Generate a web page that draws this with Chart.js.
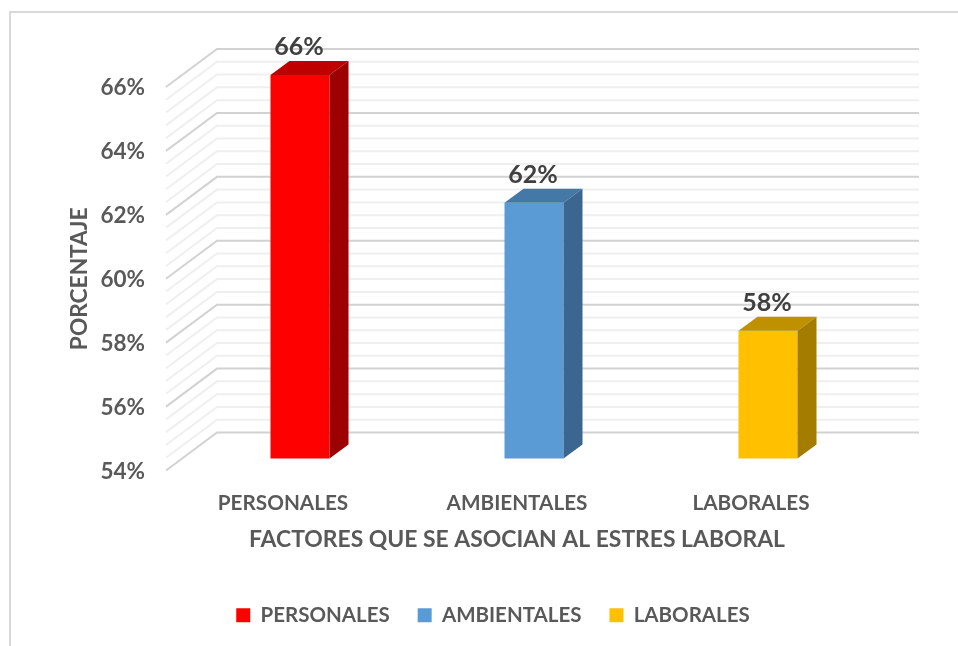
<!DOCTYPE html>
<html><head><meta charset="utf-8">
<script src="https://cdn.jsdelivr.net/npm/chart.js@4"></script>
<style>
html,body{margin:0;padding:0;background:#fff;width:958px;height:646px;overflow:hidden}
#frame{position:absolute;left:9px;top:11px;width:949px;height:635px;border-left:2px solid #d9d9d9;border-top:2px solid #d9d9d9;box-sizing:border-box}
canvas{position:absolute;left:0;top:0}
</style></head><body>
<div id="frame"></div>
<canvas id="c" width="958" height="646"></canvas>
<script>
const categories = ['PERSONALES','AMBIENTALES','LABORALES'];
const values = [66,62,58];
const frontColors = ['#FF0000','#5B9BD5','#FFC000'];
const topColors = ['#BF0000','#4478A6','#BF9000'];
const sideColors = ['#9C0000','#3A6690','#A37C00'];
const FONT = 'Lato';
const GREY = '#595959';
const wallDepth = {front:[17,12], back:[34,26]};
const bar3d = [19,14];

const scene = {
  id:'scene',
  afterLayout(chart){
    const l = chart.legend;
    l.left = 28; l.right = 958; l.top = 577; l.bottom = 646;
  },
  beforeDatasetsDraw(chart){
    const {ctx,chartArea:a,scales:{y}} = chart;
    const dx = wallDepth.front[0]+wallDepth.back[0], dy = wallDepth.back[1]+wallDepth.front[1];
    y.ticks.forEach(t=>{
      const major = Math.abs(t.value/2-Math.round(t.value/2))<1e-6;
      const p = y.getPixelForValue(t.value);
      ctx.beginPath();
      ctx.moveTo(a.left,p);
      ctx.lineTo(a.left+dx,p-dy);
      ctx.lineTo(a.right+dx,p-dy);
      ctx.strokeStyle = major?'#D2D2D2':'#EFEFEF';
      ctx.lineWidth = 2;
      ctx.stroke();
    });
  },
  beforeDatasetDraw(chart){
    chart.ctx.save();
    chart.ctx.translate(wallDepth.front[0],-wallDepth.front[1]);
  },
  afterDatasetDraw(chart){
    const ctx = chart.ctx, y = chart.scales.y;
    const [ox,oy] = bar3d;
    chart.getDatasetMeta(0).data.forEach((b,i)=>{
      const L=b.x-b.width/2,R=b.x+b.width/2,T=b.y,B=y.getPixelForValue(y.min);
      ctx.fillStyle=topColors[i];
      ctx.beginPath();ctx.moveTo(L,T);ctx.lineTo(L+ox,T-oy);ctx.lineTo(R+ox,T-oy);ctx.lineTo(R,T);ctx.closePath();ctx.fill();
      ctx.fillStyle=sideColors[i];
      ctx.beginPath();ctx.moveTo(R,T);ctx.lineTo(R+ox,T-oy);ctx.lineTo(R+ox,B-oy);ctx.lineTo(R,B);ctx.closePath();ctx.fill();
      ctx.fillStyle='#404040';
      ctx.font='bold 25px '+FONT;
      ctx.textAlign='center';ctx.textBaseline='middle';
      ctx.fillText(values[i]+'%',b.x-1,T-28);
    });
    ctx.restore();
  }
};

new Chart(document.getElementById('c'),{
  type:'bar',
  plugins:[scene],
  data:{labels:categories,datasets:[{data:values,backgroundColor:frontColors,categoryPercentage:1,barPercentage:59/234,borderWidth:0}]},
  options:{
    responsive:false,animation:false,
    layout:{padding:{left:32,right:90,top:87,bottom:26}},
    plugins:{
      tooltip:{enabled:false},
      legend:{position:'bottom',onClick:null,
        labels:{boxWidth:14,boxHeight:14,padding:28,color:GREY,font:{family:FONT,size:20.5,weight:'bold'},
          generateLabels:()=>categories.map((c,i)=>({text:c,fillStyle:frontColors[i],strokeStyle:frontColors[i],lineWidth:0,index:i,fontColor:GREY}))}}
    },
    scales:{
      x:{
        grid:{display:false},border:{display:false},
        ticks:{color:GREY,font:{family:FONT,size:20.7,weight:'bold'},padding:12,maxRotation:0},
        title:{display:true,text:'FACTORES QUE SE ASOCIAN AL ESTRES LABORAL',color:GREY,font:{family:FONT,size:22.9,weight:'bold'},padding:{top:12,bottom:8}},
        afterFit(s){s.height=91;}
      },
      y:{
        min:54,max:66,
        grid:{display:false},border:{display:false},
        ticks:{stepSize:0.4,autoSkip:false,padding:13,labelOffset:1,color:GREY,font:{family:FONT,size:22.5,weight:'bold'},
          callback(v){return Math.abs(v/2-Math.round(v/2))<1e-6?Math.round(v)+'%':'';}},
        title:{display:true,text:'PORCENTAJE',color:GREY,font:{family:FONT,size:22.7,weight:'bold'},padding:{top:34,bottom:0}},
        afterFit(s){s.width=134;}
      }
    }
  }
});
</script>
</body></html>
